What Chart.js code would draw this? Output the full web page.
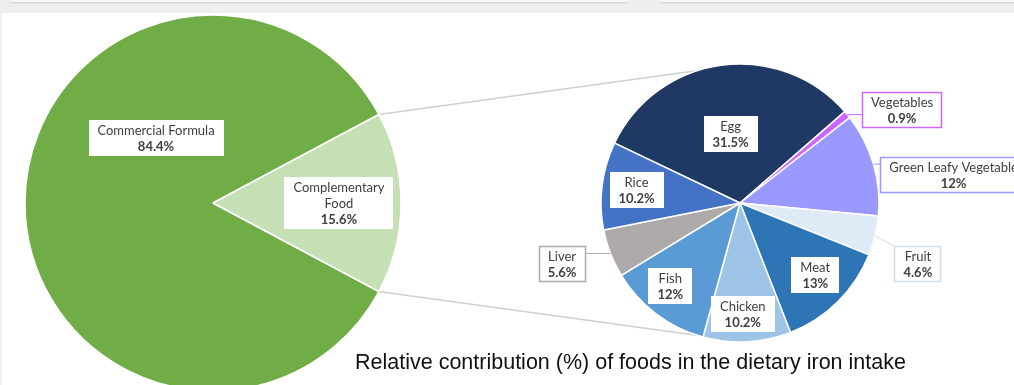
<!DOCTYPE html>
<html>
<head>
<meta charset="utf-8">
<script src="https://cdn.jsdelivr.net/npm/chart.js@4.4.0/dist/chart.umd.min.js"></script>
<style>
  html, body { margin: 0; padding: 0; }
  body { width: 1014px; height: 385px; overflow: hidden; background: #efefef; position: relative; }
  #sheet { position: absolute; left: 2px; top: 13px; right: 0; bottom: 0; background: #fff; }
  .tab { position: absolute; top: 0; height: 2px; background: #f7f7f7; box-shadow: 0 1px 2px rgba(0,0,0,0.15); }
  canvas { position: absolute; top: 0; }
  #title { position: absolute; left: 355px; top: 352px; font: 21.5px "Liberation Sans", Arial, sans-serif; line-height: 1; color: #111; white-space: nowrap; }
</style>
</head>
<body>
<div class="tab" style="left:10px;width:618px"></div>
<div class="tab" style="left:660px;width:354px"></div>
<div id="sheet"></div>
<canvas id="links" width="1014" height="385" style="left:0"></canvas>
<canvas id="main-chart" width="426" height="406" style="left:0"></canvas>
<canvas id="food-chart" width="548" height="406" style="left:466px"></canvas>
<div id="title">Relative contribution (%) of foods in the dietary iron intake</div>

<script>
  // data
  const mainLabels = ['Commercial Formula', ['Complementary', 'Food']];
  const mainValues = [84.4, 15.6];
  const foodLabels = ['Egg', 'Vegetables', 'Green Leafy Vegetable', 'Fruit', 'Meat', 'Chicken', 'Fish', 'Liver', 'Rice'];
  const foodValues = [31.5, 0.9, 12, 4.6, 13, 10.2, 12, 5.6, 10.2];

  // colours
  const mainColors = ['#70ad47', '#c5e0b4'];
  const foodColors = ['#203864', '#cc66ff', '#9999ff', '#deebf7', '#2e75b6', '#9dc3e6', '#5b9bd5', '#aeaaaa', '#4472c4'];

  // where each label box sits: rf = distance from centre (share of radius),
  // da = turn away from the middle of the slice (degrees), border = outside box
  const mainPlace = [{rf: 0.46, da: 48.8}, {rf: 0.67, da: 0}];
  const foodPlace = [
    {rf: 0.50, da: 0},
    {rf: 1.345, da: 9.6, border: '#cc66ff'},
    {rf: 1.55, da: 8.8, border: '#9999ff'},
    {rf: 1.353, da: 5.3, border: '#cfdff0'},
    {rf: 0.75, da: -1.5},
    {rf: 0.80, da: 1.5},
    {rf: 0.78, da: 3},
    {rf: 1.353, da: 2.4, border: '#aeaaaa'},
    {rf: 0.75, da: 0}
  ];

  // draws the white label boxes (name + bold value)
  const boxLabels = {
    id: 'boxLabels',
    afterDatasetsDraw(chart, args, opts) {
      const ctx = chart.ctx;
      const meta = chart.getDatasetMeta(0);
      const values = chart.data.datasets[0].data;
      const lh = 16, padX = 9, padY = 2;
      meta.data.forEach(function(arc, i){
        const p = opts.place[i];
        const a = arc.getProps(['x', 'y', 'startAngle', 'endAngle', 'outerRadius'], true);
        const mid = (a.startAngle + a.endAngle) / 2;
        const ang = mid + (p.da || 0) * Math.PI / 180;
        const cx = a.x + Math.cos(ang) * a.outerRadius * p.rf;
        const cy = a.y + Math.sin(ang) * a.outerRadius * p.rf;

        let name = chart.data.labels[i];
        if (!Array.isArray(name)) name = [name];
        const lines = name.concat([values[i] + '%']);

        ctx.save();
        let w = 0;
        lines.forEach(function(t, j){
          ctx.font = (j === lines.length - 1 ? 'bold ' : '') + '13px Lato';
          w = Math.max(w, ctx.measureText(t).width);
        });
        w = Math.round(w + padX * 2);
        const h = lines.length * lh + padY * 2;
        const left = Math.round(cx - w / 2), top = Math.round(cy - h / 2);

        if (p.border) {
          // leader line from the slice edge to the box
          const ex = a.x + Math.cos(mid) * a.outerRadius;
          const ey = a.y + Math.sin(mid) * a.outerRadius;
          const tx = Math.min(Math.max(ex, left), left + w);
          const ty = Math.min(Math.max(ey, top), top + h);
          ctx.strokeStyle = p.border;
          ctx.lineWidth = 1;
          ctx.beginPath();
          ctx.moveTo(ex, ey);
          ctx.lineTo(tx, ty);
          ctx.stroke();
        }
        ctx.fillStyle = '#fff';
        ctx.fillRect(left, top, w, h);
        if (p.border) {
          ctx.strokeStyle = p.border;
          ctx.lineWidth = 1.5;
          ctx.strokeRect(left + 0.5, top + 0.5, w - 1, h - 1);
        }
        ctx.fillStyle = '#404040';
        ctx.textAlign = 'center';
        ctx.textBaseline = 'middle';
        lines.forEach(function(t, j){
          ctx.font = (j === lines.length - 1 ? 'bold ' : '') + '13px Lato';
          ctx.fillText(t, cx, top + padY + lh * j + lh / 2 + 1);
        });
        ctx.restore();
      });
    }
  };

  // left pie, the small slice turned to face the right pie
  const mainCanvas = document.getElementById('main-chart');
  const mainChart = new Chart(mainCanvas, {
    type: 'pie',
    data: {
      labels: mainLabels,
      datasets: [{
        data: mainValues,
        backgroundColor: mainColors,
        borderColor: '#fff',
        borderWidth: 1.5,
        radius: 188
      }]
    },
    options: {
      responsive: false,
      animation: false,
      events: [],
      rotation: mainValues[1] * 3.6 / 2 - 270,
      layout: { padding: 0 },
      plugins: {
        legend: { display: false },
        tooltip: { enabled: false },
        boxLabels: { place: mainPlace }
      }
    },
    plugins: [boxLabels]
  });

  // right pie, breakdown of complementary food
  const foodCanvas = document.getElementById('food-chart');
  const foodChart = new Chart(foodCanvas, {
    type: 'pie',
    data: {
      labels: foodLabels,
      datasets: [{
        data: foodValues,
        backgroundColor: foodColors,
        borderColor: '#fff',
        borderWidth: 1.5,
        radius: 139
      }]
    },
    options: {
      responsive: false,
      animation: false,
      events: [],
      rotation: -64.5,
      layout: { padding: 0 },
      plugins: {
        legend: { display: false },
        tooltip: { enabled: false },
        boxLabels: { place: foodPlace }
      }
    },
    plugins: [boxLabels]
  });

  // grey lines joining the small slice to the second pie
  const links = document.getElementById('links').getContext('2d');
  const slice = mainChart.getDatasetMeta(0).data[1].getProps(['x', 'y', 'startAngle', 'endAngle', 'outerRadius'], true);
  const food = foodChart.getDatasetMeta(0).data[0].getProps(['x', 'y', 'outerRadius'], true);
  const fx = food.x + foodCanvas.offsetLeft, fy = food.y + foodCanvas.offsetTop;
  const linkAngle = 107.5 * Math.PI / 180;
  links.strokeStyle = '#d0d0d0';
  links.lineWidth = 1.5;
  [[slice.startAngle, -linkAngle], [slice.endAngle, linkAngle]].forEach(function(pair){
    links.beginPath();
    links.moveTo(slice.x + Math.cos(pair[0]) * slice.outerRadius, slice.y + Math.sin(pair[0]) * slice.outerRadius);
    links.lineTo(fx + Math.cos(pair[1]) * food.outerRadius, fy + Math.sin(pair[1]) * food.outerRadius);
    links.stroke();
  });
</script>
</body>
</html>
